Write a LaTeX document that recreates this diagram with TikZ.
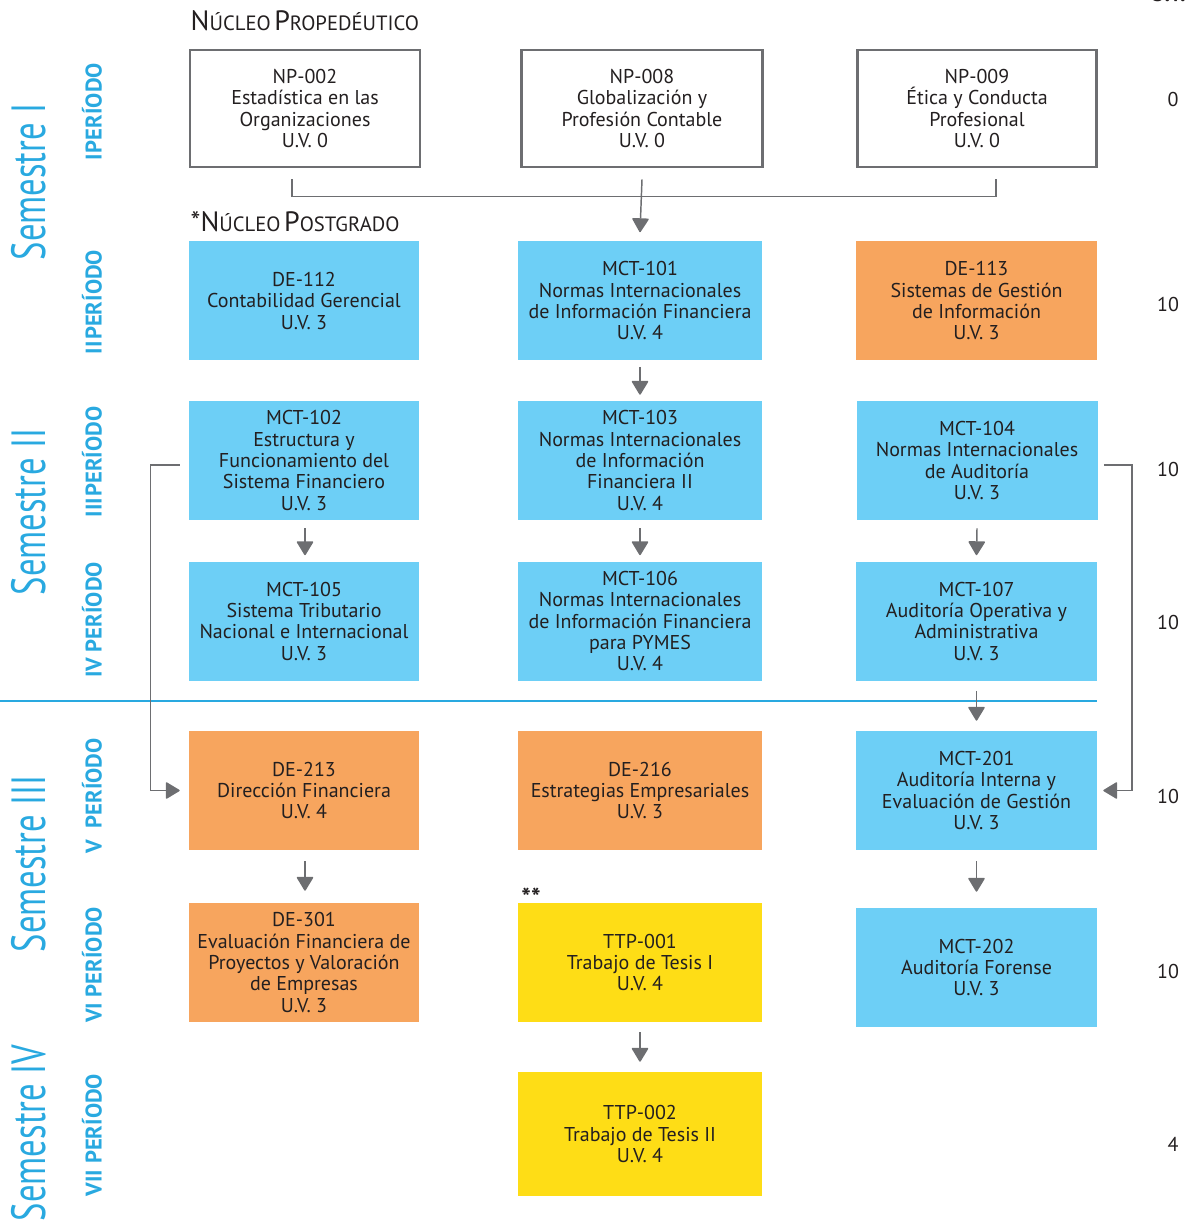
\documentclass[tikz,border=0pt]{standalone}
\usepackage{fontspec}
\usepackage{graphicx}
\newfontfamily\pts{PT Sans}
\usetikzlibrary{arrows.meta,calc}
\definecolor{cy}{HTML}{6DCFF6}
\definecolor{og}{HTML}{F7A55E}
\definecolor{yl}{HTML}{FEDD16}
\definecolor{lb}{HTML}{29A9E0}
\definecolor{gr}{HTML}{6D6E71}
\definecolor{tx}{HTML}{231F20}
\newcommand{\hdbig}[1]{{\fontsize{21}{21}\selectfont #1}}
\newcommand{\hdsml}[1]{{\fontsize{15.5}{15.5}\selectfont #1}}
\begin{document}
\begin{tikzpicture}[x=0.75pt,y=-0.75pt,
 box/.style={minimum height=89.25pt, align=center, inner sep=0pt, text=tx, font=\pts\fontsize{15}{16}\selectfont},
 wa/.style={minimum width=172.5pt},
 wb/.style={minimum width=183pt},
 wc/.style={minimum width=180.75pt},
 cyb/.style={box, fill=cy},
 ogb/.style={box, fill=og},
 ylb/.style={box, fill=yl},
 npb/.style={box, draw=gr, line width=1.8pt, fill=white, minimum height=88pt},
 conn/.style={draw=gr, line width=1.1pt},
 arr/.style={conn, -{Triangle[width=13pt,length=11pt,round]}},
 sem/.style={rotate=90, text=lb, font=\pts\fontsize{36}{36}\selectfont},
 per/.style={rotate=90, text=lb, font=\pts\bfseries\fontsize{17}{17}\selectfont},
 num/.style={text=tx, font=\pts\fontsize{15}{15}\selectfont},
 head/.style={anchor=west, text=tx, font=\pts},
]
\useasboundingbox (0,0) rectangle (1199,1226);

% headings
\node[head] (h1) at (186,21) {\hdbig{N}\hdsml{ÚCLEO} \hdbig{P}\hdsml{ROPEDÉUTICO}};
\node[head] (h2) at (186,222) {\hdbig{*N}\hdsml{ÚCLEO} \hdbig{P}\hdsml{OSTGRADO}};

% propaedeutic boxes
\node[npb, wa] (np002) at (305,108.5) {NP-002\\Estadística en las\\Organizaciones\\U.V. 0};
\node[npb, minimum width=181pt] (np008) at (642,108.5) {NP-008\\Globalización y\\Profesión Contable\\U.V. 0};
\node[npb, minimum width=179.5pt] (np009) at (977,108.5) {NP-009\\Ética y Conducta\\Profesional\\U.V. 0};

% row 2
\node[cyb, wa] (de112) at (304,301) {DE-112\\Contabilidad Gerencial\\U.V. 3};
\node[cyb, wb] (mct101) at (640,301) {MCT-101\\Normas Internacionales\\de Información Financiera\\U.V. 4};
\node[ogb, wc] (de113) at (976.5,301) {DE-113\\Sistemas de Gestión\\de Información\\U.V. 3};

% row 3
\node[cyb, wa] (mct102) at (304,460.5) {MCT-102\\Estructura y\\Funcionamiento del\\Sistema Financiero\\U.V. 3};
\node[cyb, wb] (mct103) at (640,460.5) {MCT-103\\Normas Internacionales\\de Información\\Financiera II\\U.V. 4};
\node[cyb, wc] (mct104) at (977,460.5) {MCT-104\\Normas Internacionales\\de Auditoría\\U.V. 3};

% row 4
\node[cyb, wa] (mct105) at (304,621) {MCT-105\\Sistema Tributario\\Nacional e Internacional\\U.V. 3};
\node[cyb, wb] (mct106) at (640,621) {MCT-106\\Normas Internacionales\\de Información Financiera\\para PYMES\\U.V. 4};
\node[cyb, wc] (mct107) at (976.5,621) {MCT-107\\Auditoría Operativa y\\Administrativa\\U.V. 3};

% separator
\draw[lb, line width=2.2pt] (0,701) -- (1097,701);

% row 5
\node[ogb, wa] (de213) at (304,790.5) {DE-213\\Dirección Financiera\\U.V. 4};
\node[ogb, wb] (de216) at (640,790.5) {DE-216\\Estrategias Empresariales\\U.V. 3};
\node[cyb, wc] (mct201) at (976.5,790.5) {MCT-201\\Auditoría Interna y\\Evaluación de Gestión\\U.V. 3};

% row 6
\node[ogb, wa] (de301) at (304,962.5) {DE-301\\Evaluación Financiera de\\Proyectos y Valoración\\de Empresas\\U.V. 3};
\node[ylb, wb] (ttp001) at (640,962.5) {TTP-001\\Trabajo de Tesis I\\U.V. 4};
\node[cyb, wc] (mct202) at (976.5,967.5) {MCT-202\\Auditoría Forense\\U.V. 3};
\node[text=tx, font=\pts\bfseries\fontsize{19}{19}\selectfont] (stars) at (531,897) {**};

% row 7
\node[ylb, wb, minimum height=93pt] (ttp002) at (640,1134) {TTP-002\\Trabajo de Tesis II\\U.V. 4};

% connectors
\draw[conn] ($(np002.south)+(-13,11)$) |- ($(np009.south)+(19,28)$) -- ($(np009.south)+(19,11)$);
\draw[arr] ($(np008.south)+(0,11)$) -- ($(mct101.north)+(0,-9)$);
\draw[arr] ($(mct101.south)+(0,6)$) -- ($(mct103.north)+(0,-6)$);
\draw[arr] ($(mct102.south)+(1,8)$) -- ($(mct105.north)+(1,-6)$);
\draw[arr] ($(mct103.south)+(0,8)$) -- ($(mct106.north)+(0,-6)$);
\draw[arr] ($(mct104.south)+(0,8)$) -- ($(mct107.north)+(0,-6)$);
\draw[arr] ($(mct107.south)+(0,10)$) -- ($(mct201.north)+(0,-10)$);
\draw[arr] ($(de213.south)+(1,11)$) -- ($(de301.north)+(1,-12)$);
\draw[arr] ($(mct201.south)+(0,11)$) -- ($(mct202.north)+(0,-16)$);
\draw[arr] ($(ttp001.south)+(0,10)$) -- ($(ttp002.north)+(0,-10)$);
\draw[arr] ($(mct102.west)+(-9,4.5)$) -- ++(-29,0) |- ($(de213.west)+(-9,0)$);
\draw[arr] ($(mct104.east)+(6,4.5)$) -- ++(28,0) |- ($(mct201.east)+(6,0)$);

% semester labels
\node[sem] (s1) at (29,182) {\scalebox{0.72}[1]{Semestre I}};
\node[sem] (s2) at (29,512) {\scalebox{0.72}[1]{Semestre II}};
\node[sem] (s3) at (29,864) {\scalebox{0.72}[1]{Semestre III}};
\node[sem] (s4) at (29,1133) {\scalebox{0.72}[1]{Semestre IV}};

% period labels
\node[per] (p1) at (92,112) {I\kern1pt PERÍODO};
\node[per] (p2) at (92,302) {II\kern1pt PERÍODO};
\node[per] (p3) at (92,462) {III\kern1pt PERÍODO};
\node[per] (p4) at (92,620) {IV PERÍODO};
\node[per] (p5) at (92,796) {V\ \ PERÍODO};
\node[per] (p6) at (92,965) {VI PERÍODO};
\node[per] (p7) at (92,1135) {VII PERÍODO};

% U.V. column
\node[num, font=\pts\bfseries\fontsize{17}{17}\selectfont, anchor=south] (uvh) at (1168,6) {U.V.};
\node[num] (u1) at (1173,100) {0};
\node[num] (u2) at (1168,305) {10};
\node[num] (u3) at (1168,469) {10};
\node[num] (u4) at (1168,622) {10};
\node[num] (u5) at (1168,796) {10};
\node[num] (u6) at (1168,971) {10};
\node[num] (u7) at (1173,1144) {4};
\end{tikzpicture}
\end{document}
